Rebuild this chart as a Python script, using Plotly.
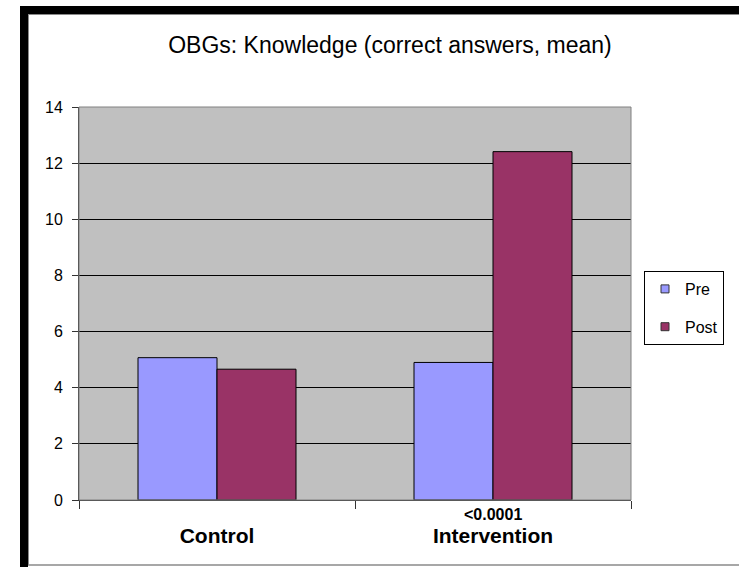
import plotly.graph_objects as go

# ---- data ----
categories = ["Control", "Intervention"]
pre_values = [5.07, 4.90]
post_values = [4.66, 12.41]
series_names = ["Pre", "Post"]
p_value_label = "<0.0001"
title_text = "OBGs: Knowledge (correct answers, mean)"
y_ticks = [0, 2, 4, 6, 8, 10, 12, 14]

# ---- style ----
W, H = 739, 567
ML, MR, MT, MB = 79, 108, 107, 67
PW, PH = W - ML - MR, H - MT - MB
FONT = "Arial, Liberation Sans, sans-serif"
PRE_COLOR = "#9999FF"
POST_COLOR = "#993366"


def px(x):
    return (x - ML) / PW


def py(y):
    return (H - MB - y) / PH


fig = go.Figure()
fig.add_trace(go.Bar(x=categories, y=pre_values, name=series_names[0],
                     marker=dict(color=PRE_COLOR, line=dict(color="black", width=1)),
                     showlegend=False))
fig.add_trace(go.Bar(x=categories, y=post_values, name=series_names[1],
                     marker=dict(color=POST_COLOR, line=dict(color="black", width=1)),
                     showlegend=False))
# legend proxies (small squares like the original)
for nm, col, grp in [(series_names[0], PRE_COLOR, "a"), (series_names[1], POST_COLOR, "b")]:
    fig.add_trace(go.Scatter(x=[None], y=[None], mode="markers", name=nm, legendgroup=grp,
                             marker=dict(symbol="square", size=8, color=col,
                                         line=dict(color="#333333", width=1))))

shapes = [
    # plot area border
    dict(type="rect", xref="paper", yref="paper", x0=0, x1=1, y0=0, y1=1,
         line=dict(color="#808080", width=1), layer="above"),
    # black frame: top band
    dict(type="rect", xref="paper", yref="paper", x0=px(20), x1=px(745), y0=py(14), y1=py(6),
         fillcolor="black", line=dict(width=0), layer="above"),
    # black frame: left band
    dict(type="rect", xref="paper", yref="paper", x0=px(20), x1=px(28), y0=py(570), y1=py(6),
         fillcolor="black", line=dict(width=0), layer="above"),
    # inner grey lines
    dict(type="line", xref="paper", yref="paper", x0=px(28), x1=px(745), y0=py(14.5), y1=py(14.5),
         line=dict(color="#8a8a8a", width=1), layer="above"),
    dict(type="line", xref="paper", yref="paper", x0=px(28.5), x1=px(28.5), y0=py(565), y1=py(14),
         line=dict(color="#8a8a8a", width=1), layer="above"),
    dict(type="line", xref="paper", yref="paper", x0=px(28), x1=px(745), y0=py(565), y1=py(565),
         line=dict(color="#8a8a8a", width=1.5), layer="above"),
]

fig.update_layout(
    width=W, height=H,
    margin=dict(l=ML, r=MR, t=MT, b=MB, pad=0),
    paper_bgcolor="white",
    plot_bgcolor="#C0C0C0",
    barmode="group",
    bargap=0.4275,
    bargroupgap=0,
    font=dict(family=FONT, color="black"),
    title=dict(text=title_text, x=390 / W, xref="container", xanchor="center",
               y=1 - 45 / H, yref="container", yanchor="middle",
               font=dict(size=23, family=FONT, color="black")),
    legend=dict(x=px(644), y=py(271), xanchor="left", yanchor="top",
                bordercolor="black", borderwidth=1, bgcolor="white",
                font=dict(size=16, family=FONT, color="black"),
                tracegroupgap=14, itemwidth=30),
    shapes=shapes,
    annotations=[dict(text="<b>" + p_value_label.replace("<", "&lt;") + "</b>",
                      x=categories[1], xref="x", y=py(514), yref="paper",
                      xanchor="center", yanchor="middle", showarrow=False,
                      font=dict(size=16, family=FONT, color="black"))],
)

fig.update_xaxes(type="category", tickson="boundaries", ticks="outside", ticklen=8,
                 tickcolor="#333333", showline=True, linecolor="#333333", linewidth=1,
                 showgrid=False, tickmode="array", tickvals=categories,
                 ticktext=["<b>" + c + "</b>" for c in categories],
                 tickfont=dict(size=21, family=FONT, color="black"),
                 ticklabelstandoff=17, range=[-0.5, 1.5])
fig.update_yaxes(range=[0, 14], tickmode="array", tickvals=y_ticks,
                 ticktext=[str(t) for t in y_ticks],
                 ticks="outside", ticklen=6, tickcolor="#333333",
                 showline=True, linecolor="#333333", linewidth=1,
                 showgrid=True, gridcolor="black", gridwidth=1, zeroline=False,
                 tickfont=dict(size=16, family=FONT, color="black"),
                 ticklabelstandoff=6)

fig.write_html("out.html")
